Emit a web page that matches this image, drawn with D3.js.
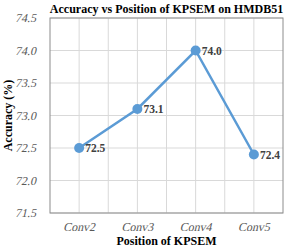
<!DOCTYPE html>
<html>
<head>
<meta charset="utf-8">
<title>Accuracy vs Position of KPSEM</title>
<style>
  body { margin: 0; background: #fff; }
  text { font-family: "Liberation Serif", "Times New Roman", serif; }
</style>
</head>
<body>
<div id="chart"></div>
<script src="https://cdn.jsdelivr.net/npm/d3@7/dist/d3.min.js"></script>
<script>
// data
var positions = ['Conv2', 'Conv3', 'Conv4', 'Conv5'];
var accuracy = [72.5, 73.1, 74.0, 72.4];
var yTicks = [71.5, 72.0, 72.5, 73.0, 73.5, 74.0, 74.5];

var W = 290, H = 247;
var mLeft = 50, mRight = 283, mTop = 18, mBottom = 213;

var svg = d3.select('#chart').append('svg')
  .attr('width', W).attr('height', H);

// x: each category sits in the middle of a band of 2 grid cells
var x = d3.scaleLinear().domain([0, positions.length * 2]).range([mLeft, mRight]);
var y = d3.scaleLinear().domain([71.5, 74.5]).range([mBottom, mTop]);

// grid
var g = svg.append('g');
g.selectAll('.hgrid').data(yTicks).enter().append('line')
  .attr('x1', mLeft).attr('x2', mRight)
  .attr('y1', d => y(d)).attr('y2', d => y(d))
  .attr('stroke', '#d9d9d9').attr('stroke-width', 1);
g.selectAll('.vgrid').data(d3.range(1, positions.length * 2)).enter().append('line')
  .attr('x1', d => x(d)).attr('x2', d => x(d))
  .attr('y1', mTop).attr('y2', mBottom)
  .attr('stroke', '#d9d9d9').attr('stroke-width', 1);

// frame
svg.append('rect')
  .attr('x', mLeft).attr('y', mTop)
  .attr('width', mRight - mLeft).attr('height', mBottom - mTop)
  .attr('fill', 'none').attr('stroke', '#8c8c8c').attr('stroke-width', 1);

// tick labels: serif slanted by hand (italic face may be missing)
svg.selectAll('.ylab').data(yTicks).enter().append('g')
  .attr('transform', d => 'translate(' + (mLeft - 14) + ',' + (y(d) + 4) + ')')
  .append('text')
  .attr('transform', 'skewX(-13)')
  .attr('text-anchor', 'end')
  .style('font-size', '12px')
  .attr('fill', '#595959')
  .text(d => d.toFixed(1));

svg.selectAll('.xlab').data(positions).enter().append('g')
  .attr('transform', (d, i) => 'translate(' + x(i * 2 + 1) + ',' + (mBottom + 18) + ')')
  .append('text')
  .attr('transform', 'skewX(-13)')
  .attr('text-anchor', 'middle')
  .style('font-size', '12px')
  .attr('fill', '#595959')
  .text(d => d);

// line
var line = d3.line()
  .x((d, i) => x(i * 2 + 1))
  .y(d => y(d));

svg.append('path')
  .attr('d', line(accuracy))
  .attr('fill', 'none')
  .attr('stroke', '#5b9bd5')
  .attr('stroke-width', 2.5);

svg.selectAll('.dot').data(accuracy).enter().append('circle')
  .attr('cx', (d, i) => x(i * 2 + 1)).attr('cy', d => y(d))
  .attr('r', 5)
  .attr('fill', '#5b9bd5');

// value labels
svg.selectAll('.val').data(accuracy).enter().append('text')
  .attr('x', (d, i) => x(i * 2 + 1) + 6).attr('y', d => y(d) + 4)
  .style('font-size', '11.5px').style('font-weight', 'bold')
  .attr('fill', '#404040')
  .text(d => d.toFixed(1));

// title
svg.append('text')
  .attr('x', (mLeft + mRight) / 2).attr('y', 13)
  .attr('text-anchor', 'middle')
  .style('font-size', '12px').style('font-weight', 'bold')
  .attr('fill', '#000')
  .text('Accuracy vs Position of KPSEM on HMDB51');

// axis titles
svg.append('text')
  .attr('x', (mLeft + mRight) / 2).attr('y', 245)
  .attr('text-anchor', 'middle')
  .style('font-size', '12px').style('font-weight', 'bold')
  .attr('fill', '#000')
  .text('Position of KPSEM');

svg.append('text')
  .attr('transform', 'translate(12,' + ((mTop + mBottom) / 2) + ') rotate(-90)')
  .attr('text-anchor', 'middle')
  .style('font-size', '12px').style('font-weight', 'bold')
  .attr('fill', '#000')
  .text('Accuracy (%)');
</script>
</body>
</html>
